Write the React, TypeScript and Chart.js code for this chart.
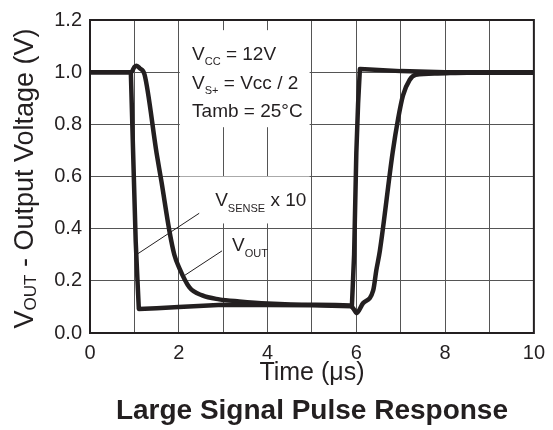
import { useEffect, useRef } from "react";
import { Chart, registerables } from "chart.js";

Chart.register(...registerables);

// ---- Data ----
const senseTime = [0, 0.5, 0.92, 0.97, 1.03, 1.07, 1.1, 1.5, 2, 3, 4, 5, 5.9, 5.95, 6.0, 6.04, 6.08, 6.3, 7, 8, 9, 10];
const senseValues = [1.0, 1.0, 1.0, 0.7, 0.35, 0.2, 0.092, 0.095, 0.1, 0.108, 0.107, 0.106, 0.103, 0.3, 0.69, 0.88, 1.012, 1.01, 1.004, 1.0, 1.0, 1.0];

const outTime = [0, 0.5, 0.93, 1.0, 1.05, 1.12, 1.23, 1.5, 1.61, 1.79, 1.9, 2.01, 2.24, 2.53, 2.91, 3.36, 4, 5, 5.85, 5.95, 6.0, 6.15, 6.38, 6.45, 6.53, 6.82, 6.94, 7.05, 7.2, 7.34, 7.83, 8.5, 10];
const outValues = [1.0, 1.0, 1.0, 1.02, 1.025, 1.015, 0.99, 0.69, 0.58, 0.39, 0.3, 0.25, 0.175, 0.144, 0.129, 0.121, 0.113, 0.108, 0.105, 0.09, 0.076, 0.114, 0.163, 0.24, 0.315, 0.694, 0.82, 0.91, 0.97, 0.99, 0.995, 0.998, 0.998];

const xTickLabels = ["0", "2", "4", "6", "8", "10"];
const yTickLabels = ["0.0", "0.2", "0.4", "0.6", "0.8", "1.0", "1.2"];

const chartTitle = "Large Signal Pulse Response";
const xAxisTitle = "Time (\u03bcs)";

type Part = { t: string; sub?: boolean };
const yTitleParts: Part[] = [{ t: "V" }, { t: "OUT", sub: true }, { t: " - Output Voltage (V)" }];

const conditionLines: { x: number; y: number; parts: Part[] }[] = [
  { x: 2.3, y: 1.048, parts: [{ t: "V" }, { t: "CC", sub: true }, { t: " = 12V" }] },
  { x: 2.3, y: 0.934, parts: [{ t: "V" }, { t: "S+", sub: true }, { t: " = Vcc / 2" }] },
  { x: 2.3, y: 0.827, parts: [{ t: "Tamb = 25\u00b0C" }] },
];
const seriesLabels: { x: number; y: number; parts: Part[] }[] = [
  { x: 2.82, y: 0.486, parts: [{ t: "V" }, { t: "SENSE", sub: true }, { t: " x 10" }] },
  { x: 3.2, y: 0.315, parts: [{ t: "V" }, { t: "OUT", sub: true }] },
];
// leader lines [x1, y1, x2, y2] in data units
const leaders = [
  [2.46, 0.459, 1.07, 0.303],
  [2.975, 0.315, 2.125, 0.22],
];
// white label backgrounds [xMin, yMax, xMax, yMin] in data units
const labelBoxes = [
  [2.0, 1.161, 4.97, 0.789],
  [2.0, 0.6, 4.97, 0.42],
  [3.0, 0.364, 4.0, 0.266],
];

const FONT = '"Liberation Sans", Arial, Helvetica, sans-serif';
const INK = "#231f20";

function drawParts(ctx: CanvasRenderingContext2D, x: number, y: number, parts: Part[], size: number, subSize: number, subDrop: number) {
  let cx = x;
  for (const p of parts) {
    ctx.font = `${p.sub ? subSize : size}px ${FONT}`;
    ctx.fillText(p.t, cx, p.sub ? y + subDrop : y);
    cx += ctx.measureText(p.t).width;
  }
  return cx - x;
}

function measureParts(ctx: CanvasRenderingContext2D, parts: Part[], size: number, subSize: number) {
  let w = 0;
  for (const p of parts) {
    ctx.font = `${p.sub ? subSize : size}px ${FONT}`;
    w += ctx.measureText(p.t).width;
  }
  return w;
}

const decorPlugin = {
  id: "decor",
  beforeDatasetsDraw(chart: any) {
    const { ctx, scales } = chart;
    const xs = scales.x, ys = scales.y;
    ctx.save();
    ctx.fillStyle = "#ffffff";
    for (const b of labelBoxes) {
      const x1 = xs.getPixelForValue(b[0]);
      const y1 = ys.getPixelForValue(b[1]);
      const x2 = xs.getPixelForValue(b[2]);
      const y2 = ys.getPixelForValue(b[3]);
      ctx.fillRect(x1 + 1, y1, x2 - x1 - 2, y2 - y1);
    }
    ctx.restore();
  },
  afterDraw(chart: any) {
    const { ctx, scales, chartArea } = chart;
    const xs = scales.x, ys = scales.y;
    ctx.save();
    // frame
    ctx.strokeStyle = INK;
    ctx.lineWidth = 2;
    ctx.strokeRect(chartArea.left, chartArea.top, chartArea.right - chartArea.left, chartArea.bottom - chartArea.top);

    // leader lines
    ctx.lineWidth = 1;
    for (const l of leaders) {
      ctx.beginPath();
      ctx.moveTo(xs.getPixelForValue(l[0]), ys.getPixelForValue(l[1]));
      ctx.lineTo(xs.getPixelForValue(l[2]), ys.getPixelForValue(l[3]));
      ctx.stroke();
    }

    ctx.fillStyle = INK;
    ctx.textBaseline = "alphabetic";
    ctx.textAlign = "left";
    for (const c of conditionLines) {
      drawParts(ctx, xs.getPixelForValue(c.x), ys.getPixelForValue(c.y), c.parts, 19, 11, 5);
    }
    for (const c of seriesLabels) {
      drawParts(ctx, xs.getPixelForValue(c.x), ys.getPixelForValue(c.y), c.parts, 19, 11, 6);
    }

    // x-axis title
    const midX = (chartArea.left + chartArea.right) / 2;
    ctx.textAlign = "center";
    ctx.font = `25px ${FONT}`;
    ctx.fillText(xAxisTitle, midX, chartArea.bottom + 47);

    // chart title
    ctx.font = `bold 28px ${FONT}`;
    ctx.fillText(chartTitle, midX, chartArea.bottom + 86);

    // y-axis title (rotated, with subscript)
    ctx.textAlign = "left";
    const midY = (chartArea.top + chartArea.bottom) / 2;
    const total = measureParts(ctx, yTitleParts, 27, 17);
    ctx.translate(33, midY + 2);
    ctx.rotate(-Math.PI / 2);
    drawParts(ctx, -total / 2, 0, yTitleParts, 27, 17, 3);
    ctx.restore();
  },
};

export default function App() {
  const ref = useRef<HTMLCanvasElement | null>(null);
  useEffect(() => {
    document.body.style.margin = "0";
    const canvas = ref.current;
    if (!canvas) return;
    const sensePts = senseTime.map((t, i) => ({ x: t, y: senseValues[i] }));
    const outPts = outTime.map((t, i) => ({ x: t, y: outValues[i] }));
    const chart = new Chart(canvas, {
      type: "scatter",
      data: {
        datasets: [
          {
            label: "VSENSE x 10",
            data: sensePts,
            showLine: true,
            borderColor: INK,
            borderWidth: 4.5,
            pointRadius: 0,
            tension: 0,
            borderJoinStyle: "round",
            borderCapStyle: "round",
          },
          {
            label: "VOUT",
            data: outPts,
            showLine: true,
            borderColor: INK,
            borderWidth: 4.5,
            pointRadius: 0,
            cubicInterpolationMode: "monotone",
            borderJoinStyle: "round",
            borderCapStyle: "round",
          },
        ],
      },
      options: {
        responsive: false,
        animation: false,
        events: [],
        layout: { padding: { left: 0, right: 16, top: 17, bottom: 0 } },
        plugins: {
          legend: { display: false },
          tooltip: { enabled: false },
          title: { display: false },
        },
        scales: {
          x: {
            type: "linear",
            min: 0,
            max: 10,
            afterFit: (s: any) => { s.height = 97; },
            grid: { color: "#555555", lineWidth: 1, drawTicks: false },
            border: { display: false },
            ticks: {
              stepSize: 1,
              autoSkip: false,
              maxRotation: 0,
              padding: 8,
              color: INK,
              font: { family: FONT, size: 20 },
              callback: (v: any) => {
                const n = Number(v);
                return n % 2 === 0 ? xTickLabels[n / 2] : "";
              },
            },
          },
          y: {
            type: "linear",
            min: 0,
            max: 1.2,
            afterFit: (s: any) => { s.width = 90; },
            grid: { color: "#555555", lineWidth: 1, drawTicks: false },
            border: { display: false },
            ticks: {
              stepSize: 0.2,
              autoSkip: false,
              padding: 8,
              color: INK,
              font: { family: FONT, size: 20 },
              callback: (v: any) => yTickLabels[Math.round(Number(v) / 0.2)] ?? "",
            },
          },
        },
      },
      plugins: [decorPlugin],
    });
    return () => chart.destroy();
  }, []);
  return <canvas ref={ref} width={553} height={430} style={{ display: "block" }} />;
}
